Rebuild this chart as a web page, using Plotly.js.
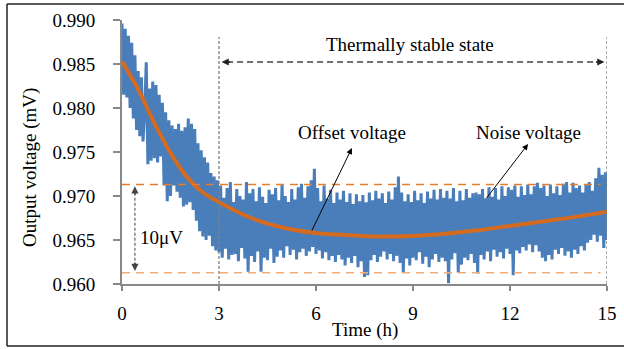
<!DOCTYPE html>
<html>
<head>
<meta charset="utf-8">
<script src="https://cdn.plot.ly/plotly-3.0.1.min.js"></script>
<style>
html,body{margin:0;padding:0;background:#fff;}
#chart{width:624px;height:349px;}
</style>
</head>
<body>
<div id="chart"></div>
<script>
// Sampling interval of the recorded signal (hours)
const sampleStepH = 0.05;

const voltH0 = [0.9896,0.9815,0.9890,0.9812,0.9882,0.9800,0.9874,0.9788,0.9860,0.9775,0.9842,0.9768,0.9835,0.9762,0.9795,0.9852,0.9736,0.9822,0.9740,0.9830];
const voltH1 = [0.9743,0.9826,0.9738,0.9815,0.9745,0.9806,0.9712,0.9795,0.9694,0.9786,0.9700,0.9780,0.9712,0.9776,0.9705,0.9782,0.9698,0.9774,0.9688,0.9778];
const voltH2 = [0.9690,0.9788,0.9693,0.9782,0.9684,0.9776,0.9672,0.9760,0.9660,0.9752,0.9654,0.9744,0.9650,0.9738,0.9655,0.9726,0.9643,0.9722,0.9638,0.9718];
const voltH3 = [0.9636,0.9712,0.9630,0.9698,0.9640,0.9709,0.9628,0.9716,0.9633,0.9693,0.9634,0.9708,0.9626,0.9700,0.9641,0.9696,0.9629,0.9716,0.9614,0.9703];
const voltH4 = [0.9632,0.9708,0.9625,0.9694,0.9637,0.9710,0.9614,0.9699,0.9630,0.9692,0.9627,0.9707,0.9640,0.9702,0.9624,0.9709,0.9631,0.9695,0.9638,0.9713];
const voltH5 = [0.9630,0.9700,0.9643,0.9693,0.9633,0.9708,0.9639,0.9696,0.9628,0.9710,0.9636,0.9714,0.9640,0.9698,0.9632,0.9711,0.9637,0.9718,0.9642,0.9731];
const voltH6 = [0.9634,0.9709,0.9638,0.9694,0.9629,0.9712,0.9636,0.9697,0.9627,0.9707,0.9632,0.9692,0.9625,0.9704,0.9633,0.9696,0.9628,0.9706,0.9621,0.9693];
const voltH7 = [0.9630,0.9703,0.9624,0.9691,0.9632,0.9702,0.9619,0.9694,0.9626,0.9701,0.9608,0.9693,0.9610,0.9704,0.9627,0.9695,0.9633,0.9706,0.9625,0.9697];
const voltH8 = [0.9631,0.9703,0.9637,0.9692,0.9628,0.9705,0.9634,0.9696,0.9626,0.9710,0.9632,0.9722,0.9624,0.9704,0.9613,0.9694,0.9629,0.9702,0.9621,0.9693];
const voltH9 = [0.9630,0.9706,0.9627,0.9695,0.9636,0.9703,0.9623,0.9692,0.9631,0.9705,0.9619,0.9697,0.9628,0.9707,0.9634,0.9696,0.9625,0.9708,0.9630,0.9698];
const voltH10 = [0.9626,0.9706,0.9601,0.9697,0.9628,0.9709,0.9635,0.9694,0.9613,0.9706,0.9622,0.9695,0.9630,0.9708,0.9627,0.9698,0.9634,0.9703,0.9624,0.9704];
const voltH11 = [0.9612,0.9702,0.9633,0.9708,0.9628,0.9697,0.9637,0.9710,0.9626,0.9699,0.9639,0.9709,0.9631,0.9696,0.9636,0.9711,0.9629,0.9700,0.9640,0.9710];
const voltH12 = [0.9634,0.9707,0.9610,0.9712,0.9638,0.9699,0.9635,0.9711,0.9642,0.9701,0.9638,0.9713,0.9645,0.9702,0.9636,0.9711,0.9644,0.9715,0.9637,0.9709];
const voltH13 = [0.9630,0.9712,0.9626,0.9700,0.9633,0.9713,0.9628,0.9703,0.9639,0.9711,0.9634,0.9701,0.9641,0.9714,0.9632,0.9716,0.9637,0.9704,0.9630,0.9715];
const voltH14 = [0.9639,0.9709,0.9634,0.9712,0.9643,0.9704,0.9638,0.9713,0.9647,0.9716,0.9650,0.9706,0.9656,0.9720,0.9648,0.9732,0.9655,0.9724,0.9641,0.9727,0.9650];

// Offset voltage (fitted trend)
const fitTimeH = [0, 0.5, 1, 1.5, 2, 2.5, 3, 4, 5, 6, 7, 8, 9, 10, 11, 12, 13, 14, 15];
const fitVolt  = [0.9853, 0.9821, 0.9783, 0.9749, 0.9722, 0.9704, 0.9693, 0.9675, 0.9664, 0.9658, 0.96555, 0.9654, 0.96545, 0.9657, 0.9661, 0.9666, 0.9671, 0.9676, 0.9682];

// Noise band limits (10 µV apart) and the stable-state window
const bandUpper = 0.9713;
const bandLower = 0.96128;
const stableStartH = 3;
const stableEndH = 15;

// Axis ticks
const xTicks = [0, 3, 6, 9, 12, 15];
const yTicks = [0.960, 0.965, 0.970, 0.975, 0.980, 0.985, 0.990];

const voltAll = [].concat(voltH0, voltH1, voltH2, voltH3, voltH4, voltH5, voltH6, voltH7,
                          voltH8, voltH9, voltH10, voltH11, voltH12, voltH13, voltH14);
const timeAll = voltAll.map((_, i) => +(i * sampleStepH).toFixed(2));

const serif = "'Liberation Serif', 'Times New Roman', Times, serif";
const fs = 19;

const traces = [
  {x: timeAll, y: voltAll, type: 'scatter', mode: 'lines',
   line: {color: '#4a7ebb', width: 3}, hoverinfo: 'skip', showlegend: false},
  {x: fitTimeH, y: fitVolt, type: 'scatter', mode: 'lines',
   line: {color: '#d46b1f', width: 4, shape: 'spline', smoothing: 1.0}, hoverinfo: 'skip', showlegend: false}
];

const shapes = [
  {type: 'line', xref: 'x', yref: 'y', x0: 0, x1: 14.8, y0: bandUpper, y1: bandUpper,
   line: {color: '#e57d2e', width: 1.5, dash: '8px,6px'}},
  {type: 'line', xref: 'x', yref: 'y', x0: 0, x1: 14.8, y0: bandLower, y1: bandLower,
   line: {color: '#f0ad78', width: 1.5, dash: '8px,6px'}},
  {type: 'line', xref: 'x', yref: 'y', x0: stableStartH, x1: stableStartH, y0: 0.960, y1: 0.98807,
   line: {color: '#808080', width: 1.3, dash: '3px,2px'}},
  {type: 'line', xref: 'x', yref: 'y', x0: stableEndH, x1: stableEndH, y0: 0.960, y1: 0.98807,
   line: {color: '#808080', width: 1.3, dash: '3px,2px'}},
  {type: 'line', xref: 'x', yref: 'y', x0: stableStartH + 0.25, x1: stableEndH - 0.25, y0: 0.98523, y1: 0.98523,
   line: {color: '#404040', width: 1.3, dash: '6px,4px'}},
  {type: 'line', xref: 'x', yref: 'y', x0: 0.40, x1: 0.40, y0: bandLower + 0.0008, y1: bandUpper - 0.0008,
   line: {color: '#606060', width: 1.2, dash: '3px,2px'}},
  {type: 'line', xref: 'paper', yref: 'paper', x0: -0.2371, x1: -0.2371, y0: 1.0606, y1: -0.2348,
   line: {color: '#222', width: 1.5}},
  {type: 'line', xref: 'paper', yref: 'paper', x0: -0.2371, x1: 1.04, y0: 1.0606, y1: 1.0606,
   line: {color: '#222', width: 1.5}},
  {type: 'line', xref: 'paper', yref: 'paper', x0: -0.2371, x1: 1.04, y0: -0.2348, y1: -0.2348,
   line: {color: '#222', width: 1.5}}
];

function head(x, y, axPx, ayPx, color) {
  return {x: x, y: y, xref: 'x', yref: 'y', ax: axPx, ay: ayPx, text: '', showarrow: true,
          arrowhead: 2, arrowsize: 1.1, arrowwidth: 1.3, arrowcolor: color};
}

const annotations = [
  {x: 8.91, y: 0.98716, xref: 'x', yref: 'y', text: 'Thermally stable state', showarrow: false,
   font: {family: serif, size: fs, color: '#000'}},
  head(stableStartH + 0.08, 0.98523, 10, 0, '#222'),
  head(stableEndH - 0.08, 0.98523, -10, 0, '#222'),
  head(0.40, bandUpper - 0.0002, 0, 10, '#444'),
  head(0.40, bandLower + 0.0002, 0, -10, '#444'),
  {x: 0.48, y: 0.96534, xref: 'x', yref: 'y', text: '10μV', showarrow: false, xanchor: 'left',
   font: {family: serif, size: fs, color: '#000'}},
  {x: 7.11, y: 0.97727, xref: 'x', yref: 'y', text: 'Offset voltage', showarrow: false,
   font: {family: serif, size: fs, color: '#000'}},
  {x: 7.11, y: 0.97545, xref: 'x', yref: 'y', ax: 5.85, ay: 0.96591, axref: 'x', ayref: 'y',
   text: '', showarrow: true, arrowhead: 2, arrowsize: 1.2, arrowwidth: 1, arrowcolor: '#000'},
  {x: 12.56, y: 0.97727, xref: 'x', yref: 'y', text: 'Noise voltage', showarrow: false,
   font: {family: serif, size: fs, color: '#000'}},
  {x: 12.56, y: 0.97591, xref: 'x', yref: 'y', ax: 11.23, ay: 0.96955, axref: 'x', ayref: 'y',
   text: '', showarrow: true, arrowhead: 2, arrowsize: 1.2, arrowwidth: 1, arrowcolor: '#000'},
  {x: -0.1897, y: 0.443, xref: 'paper', yref: 'paper', text: 'Output voltage (mV)', textangle: -90,
   showarrow: false, xanchor: 'center', yanchor: 'middle', font: {family: serif, size: fs, color: '#000'}},
  {x: 0.5, y: -0.174, xref: 'paper', yref: 'paper', text: 'Time (h)',
   showarrow: false, xanchor: 'center', yanchor: 'middle', font: {family: serif, size: fs, color: '#000'}}
];

const layout = {
  width: 624, height: 349,
  margin: {l: 122, r: 17, t: 20, b: 65, pad: 0},
  paper_bgcolor: '#fff', plot_bgcolor: '#fff',
  showlegend: false,
  font: {family: serif, size: fs, color: '#000'},
  xaxis: {range: [0, 15], tickvals: xTicks, ticktext: xTicks.map(String),
          showgrid: false, zeroline: false, showline: true, linecolor: '#898989', linewidth: 2,
          ticks: 'outside', ticklen: 5, tickwidth: 2, tickcolor: '#898989', ticklabelstandoff: 6,
          tickfont: {family: serif, size: fs, color: '#000'}, fixedrange: true},
  yaxis: {range: [0.960, 0.990], tickvals: yTicks, ticktext: yTicks.map(v => v.toFixed(3)),
          showgrid: false, zeroline: false, showline: true, linecolor: '#898989', linewidth: 2,
          ticks: 'outside', ticklen: 7, tickwidth: 2, tickcolor: '#898989', ticklabelstandoff: 14,
          tickfont: {family: serif, size: fs, color: '#000'}, fixedrange: true},
  shapes: shapes,
  annotations: annotations
};

Plotly.newPlot('chart', traces, layout, {staticPlot: true, displayModeBar: false});
</script>
</body>
</html>
